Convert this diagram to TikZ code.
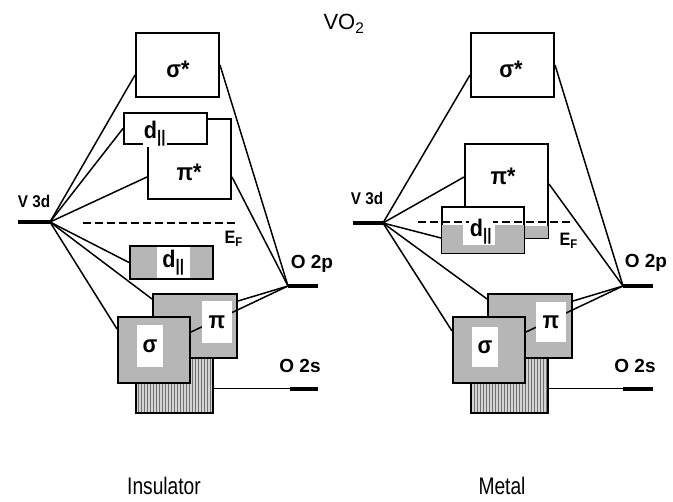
\documentclass[tikz,border=0pt]{standalone}
\usepackage{fontspec}
\setmainfont{Liberation Sans}
\newfontfamily\bandfont[FakeStretch=0.9]{Liberation Sans}
\newfontfamily\capfont[FakeStretch=0.8]{Liberation Sans}
\usetikzlibrary{calc,patterns}
\definecolor{bgr}{RGB}{182,182,182}

\begin{document}
\begin{tikzpicture}[x=1pt,y=-1pt,
  band/.style={draw,line width=2pt,inner sep=0pt,minimum width=83pt},
  grayband/.style={band,fill=bgr},
  hole/.style={fill=white,inner sep=0pt},
  hatch/.style={draw,line width=2pt,inner sep=0pt,preaction={fill=bgr!60},pattern=vertical lines,pattern color=black!55},
  bond/.style={line width=1.5pt},
  lvl/.style={line width=4.5pt},
  efline/.style={line width=1.6pt,dash pattern=on 8pt off 4pt},
  orb/.style={font=\bandfont\bfseries\fontsize{24}{26}\selectfont,inner sep=0.5pt},
  atom/.style={font=\bfseries\fontsize{19}{21}\selectfont,anchor=base},
  vlbl/.style={font=\bandfont\bfseries\fontsize{17}{19}\selectfont,anchor=base},
  caption/.style={font=\capfont\fontsize{24}{26}\selectfont,anchor=base},
  ]
  \useasboundingbox (0,0) rectangle (673,502);
  \node[anchor=base west,font=\fontsize{22}{24}\selectfont] (title) at (320,30) {VO\textsubscript{2}};

  % ---- insulator ----
  \coordinate (v3dL0) at (18,222);
  \coordinate (v3dL) at (50,222);
  \coordinate (o2pL) at (288,286);
  \coordinate (o2pL1) at (318,286);
  \coordinate (o2sL) at (290,389);
  \coordinate (o2sL1) at (318,389);
  \draw[lvl] (v3dL0) -- (v3dL);
  \draw[lvl] (o2pL) -- (o2pL1);
  \draw[lvl] (o2sL) -- (o2sL1);
  \node[vlbl] (v3dLlbl) at (34,208) {V 3d};
  \node[atom] (o2pLlbl) at (312,269) {O 2p};
  \node[atom] (o2sLlbl) at (300,373) {O 2s};

  \node[band,minimum height=64pt] (sigSL) at (177.5,65) {};
  \node[orb] (sigSLtxt) at (178,69) {σ*};
  \node[band,minimum height=80pt] (piSL) at (189.5,159) {};
  \node[orb] (piSLtxt) at (189,172) {π*};
  \node[band,fill=white,minimum height=31pt] (dupL) at (165.5,128.5) {};
  \node[orb,fill=white] (dupLtxt) at (155,134) {d\textsubscript{||}};
  \node[grayband,minimum height=33pt] (dlowL) at (171.5,262.5) {};
  \node[hole,orb,minimum width=33pt,minimum height=31pt] (dlowLtxt) at (173.5,262.5) {d\textsubscript{||}};

  \node[hatch,minimum width=77pt,minimum height=58pt] (hatL) at (174.5,384) {};
  \node[grayband,minimum width=84pt,minimum height=64pt] (piL) at (195,326) {};
  \node[grayband,minimum width=72pt,minimum height=66pt] (sigL) at (154,350) {};
  \draw[bond] (o2pL) -- ($(sigL.north east)+(0,16)$);
  \node[hole,orb,minimum width=30pt,minimum height=42pt] (piLtxt) at (217,322) {π};
  \node[hole,orb,minimum width=26pt,minimum height=42pt] (sigLtxt) at (150,346) {σ};

  \draw[bond] (v3dL) -- ($(sigSL.west)+(0,10)$);
  \draw[bond] (v3dL) -- (dupL.west);
  \draw[bond] (v3dL) -- ($(piSL.west)+(0,18)$);
  \draw[bond] (v3dL) -- (dlowL.west);
  \draw[bond] (v3dL) -- ($(piL.north west)+(0,6)$);
  \draw[bond] (v3dL) -- ($(sigL.north west)+(0,13)$);
  \draw[bond] (o2pL) -- (sigSL.east);
  \draw[bond] (o2pL) -- ($(piSL.east)+(0,18)$);
  \draw[bond] (o2pL) -- ($(piL.north east)+(0,8)$);
  \draw[line width=1pt] ($(hatL.east)+(0,5)$) -- (o2sL);

  \coordinate (efL0) at (83,223);
  \coordinate (efL1) at (237,223);
  \draw[efline] (efL0) -- (efL1);
  \node[anchor=base west,font=\bandfont\bfseries\fontsize{18}{20}\selectfont] (efLlbl) at (221,244) {E\textsubscript{F}};
  \node[caption] (insul) at (164,495) {Insulator};

  % ---- metal ----
  \coordinate (v3dR0) at (353,223);
  \coordinate (v3dR) at (383,223);
  \coordinate (o2pR) at (623,286);
  \coordinate (o2pR1) at (653,286);
  \coordinate (o2sR) at (623,389);
  \coordinate (o2sR1) at (653,389);
  \draw[lvl] (v3dR0) -- (v3dR);
  \draw[lvl] (o2pR) -- (o2pR1);
  \draw[lvl] (o2sR) -- (o2sR1);
  \node[vlbl] (v3dRlbl) at (367,205) {V 3d};
  \node[atom] (o2pRlbl) at (646,268) {O 2p};
  \node[atom] (o2sRlbl) at (635,373) {O 2s};

  \node[band,minimum height=64pt] (sigSR) at (512.5,65) {};
  \node[orb] (sigSRtxt) at (511,69) {σ*};
  \node[band,fill=white,minimum height=94pt] (piSR) at (506.5,191) {};
  \fill[bgr] ($(piSR.south west)+(1,-13)$) rectangle ($(piSR.south east)+(-1,-1)$);
  \node[orb] (piSRtxt) at (503,176) {π*};
  \node[band,fill=white,minimum width=82pt,minimum height=46pt] (dR) at (483,230) {};
  \fill[bgr] ($(dR.west)+(1,-5)$) rectangle ($(dR.south east)+(-1,-1)$);
  \fill[white] ($(dR.center)+(-20,-5)$) rectangle ($(dR.center)+(12,15)$);

  \node[hatch,minimum width=77pt,minimum height=58pt] (hatR) at (509.5,384) {};
  \node[grayband,minimum width=84pt,minimum height=64pt] (piR) at (530,326) {};
  \node[grayband,minimum width=72pt,minimum height=66pt] (sigR) at (489,350) {};
  \draw[bond] (o2pR) -- ($(sigR.north east)+(0,16)$);
  \node[hole,orb,minimum width=30pt,minimum height=40pt] (piRtxt) at (551,322) {π};
  \node[hole,orb,minimum width=26pt,minimum height=40pt] (sigRtxt) at (485,347) {σ};

  \draw[bond] (v3dR) -- ($(sigSR.west)+(0,10)$);
  \draw[bond] (v3dR) -- ($(piSR.west)+(0,-14)$);
  \draw[bond] (v3dR) -- ($(dR.west)+(0,8)$);
  \draw[bond] (v3dR) -- ($(piR.north west)+(0,6)$);
  \draw[bond] (v3dR) -- ($(sigR.north west)+(0,15)$);
  \draw[bond] (o2pR) -- (sigSR.east);
  \draw[bond] (o2pR) -- ($(piSR.east)+(0,-7)$);
  \draw[bond] (o2pR) -- ($(piR.north east)+(0,8)$);
  \draw[line width=1pt] ($(hatR.east)+(0,5)$) -- (o2sR);

  \coordinate (efR0) at (418,222);
  \coordinate (efR1) at (570,222);
  \draw[efline] (efR0) -- (efR1);
  \node[orb,fill=white] (dRtxt) at (481,232) {d\textsubscript{||}};
  \node[anchor=base west,font=\bandfont\bfseries\fontsize{18}{20}\selectfont] (efRlbl) at (556,246) {E\textsubscript{F}};
  \node[caption] (metal) at (502,495) {Metal};
\end{tikzpicture}
\end{document}
